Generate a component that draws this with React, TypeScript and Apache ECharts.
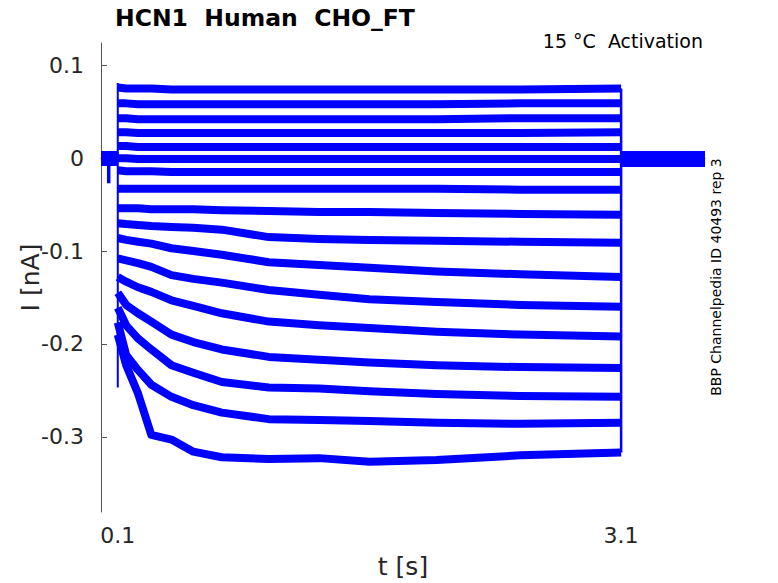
import React, { useEffect, useRef } from "react";
import * as echarts from "echarts";

const times = [0.1, 0.15, 0.22, 0.3, 0.42, 0.55, 0.72, 1.0, 1.3, 1.6, 2.0, 2.5, 3.1];

// current (nA) of every sweep at those time points, top to bottom
const sweep01 = [0.076, 0.075, 0.075, 0.075, 0.074, 0.074, 0.074, 0.074, 0.074, 0.074, 0.074, 0.074, 0.075];
const sweep02 = [0.059, 0.059, 0.058, 0.058, 0.058, 0.058, 0.058, 0.058, 0.058, 0.058, 0.058, 0.059, 0.059];
const sweep03 = [0.043, 0.043, 0.042, 0.042, 0.042, 0.042, 0.042, 0.042, 0.042, 0.042, 0.042, 0.043, 0.043];
const sweep04 = [0.028, 0.028, 0.027, 0.027, 0.027, 0.027, 0.027, 0.027, 0.027, 0.027, 0.027, 0.027, 0.028];
const sweep05 = [0.013, 0.013, 0.012, 0.012, 0.012, 0.012, 0.012, 0.012, 0.012, 0.012, 0.012, 0.012, 0.012];
const sweep06 = [0.0, 0.0, -0.001, -0.001, -0.001, -0.001, -0.001, -0.001, -0.001, -0.001, -0.001, -0.001, -0.001];
const sweep07 = [-0.013, -0.014, -0.014, -0.014, -0.015, -0.015, -0.015, -0.015, -0.015, -0.015, -0.015, -0.015, -0.015];
const sweep08 = [-0.033, -0.033, -0.033, -0.033, -0.033, -0.033, -0.033, -0.033, -0.033, -0.033, -0.033, -0.034, -0.034];
const sweep09 = [-0.054, -0.054, -0.054, -0.055, -0.055, -0.055, -0.056, -0.057, -0.058, -0.058, -0.059, -0.06, -0.061];
const sweep10 = [-0.07, -0.071, -0.072, -0.073, -0.074, -0.075, -0.077, -0.085, -0.087, -0.088, -0.089, -0.09, -0.091];
const sweep11 = [-0.086, -0.088, -0.09, -0.092, -0.097, -0.1, -0.104, -0.112, -0.115, -0.118, -0.122, -0.125, -0.128];
const sweep12 = [-0.108, -0.11, -0.113, -0.117, -0.126, -0.13, -0.134, -0.142, -0.147, -0.152, -0.155, -0.158, -0.16];
const sweep13 = [-0.128, -0.133, -0.139, -0.144, -0.153, -0.159, -0.167, -0.176, -0.18, -0.183, -0.187, -0.19, -0.192];
const sweep14 = [-0.145, -0.158, -0.167, -0.176, -0.19, -0.198, -0.206, -0.214, -0.217, -0.22, -0.223, -0.225, -0.226];
const sweep15 = [-0.161, -0.18, -0.194, -0.206, -0.223, -0.231, -0.241, -0.247, -0.248, -0.251, -0.254, -0.256, -0.257];
const sweep16 = [-0.177, -0.212, -0.228, -0.244, -0.257, -0.266, -0.274, -0.281, -0.282, -0.283, -0.285, -0.286, -0.285];
const sweep17 = [-0.19, -0.223, -0.253, -0.298, -0.303, -0.316, -0.322, -0.324, -0.323, -0.327, -0.325, -0.32, -0.317];

const sweeps = [
  sweep01, sweep02, sweep03, sweep04, sweep05, sweep06, sweep07, sweep08, sweep09,
  sweep10, sweep11, sweep12, sweep13, sweep14, sweep15, sweep16, sweep17,
];

// holding current before and after the step (all sweeps overlap)
const preTimes = [0, 0.1];
const preValues = [-0.0005, -0.0005];
const postTimes = [3.1, 3.6];
const postValues = [-0.001, -0.001];

// artefact spike before the step
const spikeTimes = [0.046, 0.046];
const spikeValues = [-0.008, -0.027];

// capacitive transient at step onset
const onsetTimes = [0.1, 0.1];
const onsetValues = [0.081, -0.247];

// tick labels
const xTicks = [0.1, 3.1];
const yTicks = [-0.3, -0.2, -0.1, 0, 0.1];

const BLUE = "#0000ff";
const FONT = "DejaVu Sans";

export default function App() {
  const ref = useRef<HTMLDivElement>(null);

  useEffect(() => {
    if (!ref.current) return;
    const chart = echarts.init(ref.current, null, { renderer: "svg" });

    const pair = (ts: number[], vs: number[]) => ts.map((t, i) => [t, vs[i]]);

    const series: any[] = [];
    series.push({
      type: "line",
      data: pair(preTimes, preValues),
      showSymbol: false,
      lineStyle: { color: BLUE, width: 15 },
      silent: true,
    });
    series.push({
      type: "line",
      data: pair(postTimes, postValues),
      showSymbol: false,
      lineStyle: { color: BLUE, width: 16 },
      silent: true,
    });
    series.push({
      type: "line",
      data: pair(spikeTimes, spikeValues),
      showSymbol: false,
      lineStyle: { color: BLUE, width: 3.5 },
      silent: true,
    });
    series.push({
      type: "line",
      data: pair(onsetTimes, onsetValues),
      showSymbol: false,
      lineStyle: { color: BLUE, width: 2 },
      silent: true,
    });
    // closing line at step offset
    series.push({
      type: "line",
      data: [
        [3.1, sweep01[sweep01.length - 1]],
        [3.1, sweep17[sweep17.length - 1]],
      ],
      showSymbol: false,
      lineStyle: { color: BLUE, width: 2.5 },
      silent: true,
    });
    sweeps.forEach((s) => {
      series.push({
        type: "line",
        data: pair(times, s),
        showSymbol: false,
        lineStyle: { color: BLUE, width: 8, cap: "butt", join: "round" },
        silent: true,
      });
    });

    const axisCommon = {
      axisLine: { show: true, lineStyle: { color: "#555555", width: 1 } },
      axisTick: { show: true, inside: true, length: 6, lineStyle: { color: "#555555", width: 1 } },
      splitLine: { show: false },
      nameMoveOverlap: false,
      nameTextStyle: { fontFamily: FONT, fontSize: 25, color: "#262626" },
    };

    chart.setOption({
      animation: false,
      backgroundColor: "#ffffff",
      title: {
        text: "HCN1  Human  CHO_FT",
        left: 115,
        top: 6,
        padding: 0,
        textStyle: { fontFamily: FONT, fontSize: 23.5, fontWeight: "bold", color: "#000000" },
      },
      grid: {
        left: 101,
        top: 43,
        width: 604,
        height: 469,
        containLabel: false,
        outerBoundsMode: "none",
      },
      xAxis: {
        type: "value",
        min: 0,
        max: 3.6,
        name: "t [s]",
        nameLocation: "middle",
        nameGap: 42,
        ...axisCommon,
        axisTick: { ...axisCommon.axisTick, customValues: xTicks },
        axisLabel: {
          customValues: xTicks,
          margin: 12,
          fontFamily: FONT,
          fontSize: 22,
          color: "#262626",
          formatter: (v: number) => String(Number(v.toFixed(1))),
        },
      },
      yAxis: {
        type: "value",
        min: -0.381,
        max: 0.124,
        name: "I [nA]",
        nameLocation: "middle",
        nameGap: 58,
        ...axisCommon,
        axisTick: { ...axisCommon.axisTick, customValues: yTicks },
        axisLabel: {
          customValues: yTicks,
          margin: 17,
          fontFamily: FONT,
          fontSize: 22,
          color: "#262626",
          formatter: (v: number) => String(Number(v.toFixed(1))),
        },
      },
      graphic: [
        {
          type: "text",
          right: 75,
          top: 31,
          style: {
            text: "15 °C  Activation",
            fontFamily: FONT,
            fontSize: 19,
            fill: "#000000",
          },
        },
        {
          type: "text",
          x: 716,
          y: 277,
          rotation: Math.PI / 2,
          style: {
            text: "BBP Channelpedia ID 40493 rep 3",
            fontFamily: FONT,
            fontSize: 14,
            fill: "#000000",
            align: "center",
            verticalAlign: "middle",
          },
        },
      ],
      series,
    });

    return () => chart.dispose();
  }, []);

  return (
    <div
      ref={ref}
      style={{ position: "absolute", left: 0, top: 0, width: 778, height: 583 }}
    />
  );
}
